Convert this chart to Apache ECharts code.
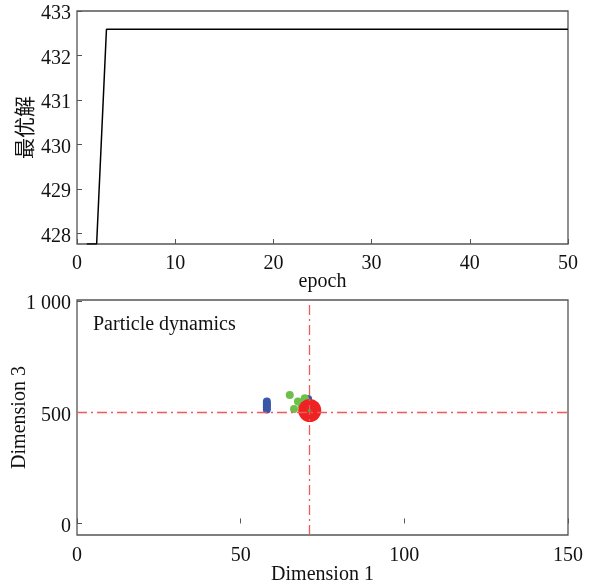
<!DOCTYPE html>
<html>
<head>
<meta charset="utf-8">
<script src="https://cdn.jsdelivr.net/npm/echarts@6/dist/echarts.min.js"></script>
<style>
html,body{margin:0;padding:0;background:#fff;}
#c{width:597px;height:584px;}
</style>
</head>
<body>
<div id="c"></div>
<script>
// ---- data ----
const epochs = [1,2,3,4,5,6,7,8,9,10,11,12,13,14,15,16,17,18,19,20,21,22,23,24,25,26,27,28,29,30,31,32,33,34,35,36,37,38,39,40,41,42,43,44,45,46,47,48,49,50];
const bestValues = [427.76,427.76,432.59,432.59,432.59,432.59,432.59,432.59,432.59,432.59,
  432.59,432.59,432.59,432.59,432.59,432.59,432.59,432.59,432.59,432.59,
  432.59,432.59,432.59,432.59,432.59,432.59,432.59,432.59,432.59,432.59,
  432.59,432.59,432.59,432.59,432.59,432.59,432.59,432.59,432.59,432.59,
  432.59,432.59,432.59,432.59,432.59,432.59,432.59,432.59,432.59,432.59];
const topYTicks = [428,429,430,431,432,433];
const botYTicks = [0,500,1000];

const blueDim1 = [58,58,58,58,58,70.6];
const blueDim3 = [513,522,531,540,549,560];
const greenDim1 = [65.0,67.5,66.3,68.6,69.6];
const greenDim3 = [578,548,515,533,563];
const redDim1 = [71.1];
const redDim3 = [508];
const bestDim1 = 71;
const bestDim3 = 500;
const centerDim1 = [71];
const centerDim3 = [508];

const zip = (a,b)=>a.map((v,i)=>[v,b[i]]);

const FONT = '"Liberation Serif", "Times New Roman", serif';
const CJK = '"Noto Sans CJK SC", sans-serif';
const axisColor = '#555';
const yRich = {v:{fontFamily:FONT, fontSize:20, color:'#111', padding:[6,0,0,0]}};

const chart = echarts.init(document.getElementById('c'), null, {renderer:'canvas'});
chart.setOption({
  animation:false,
  backgroundColor:'#fff',
  title:{text:'Particle dynamics', left:88, top:310, textStyle:{fontFamily:FONT, fontSize:20, fontWeight:'normal', color:'#111'}},
  grid:[
    {left:77, right:29, top:11, height:233, show:true, borderColor:axisColor, borderWidth:1.3, backgroundColor:'transparent', outerBoundsMode:'none', containLabel:false},
    {left:77, right:29, top:300, height:235, show:true, borderColor:axisColor, borderWidth:1.3, backgroundColor:'transparent', outerBoundsMode:'none', containLabel:false}
  ],
  xAxis:[
    {gridIndex:0, type:'value', min:0, max:50, interval:10,
     name:'epoch', nameLocation:'middle', nameGap:28, nameMoveOverlap:false, nameTextStyle:{fontFamily:FONT, fontSize:20, color:'#111'},
     axisLine:{show:false}, splitLine:{show:false},
     axisTick:{inside:true, length:5, lineStyle:{color:axisColor}},
     axisLabel:{fontFamily:FONT, fontSize:20, color:'#111', margin:10}},
    {gridIndex:1, type:'value', min:0, max:150, interval:50,
     name:'Dimension 1', nameLocation:'middle', nameGap:30, nameMoveOverlap:false, nameTextStyle:{fontFamily:FONT, fontSize:20, color:'#111'},
     axisLine:{show:false}, splitLine:{show:false},
     axisTick:{inside:true, length:5, lineStyle:{color:axisColor}},
     axisLabel:{fontFamily:FONT, fontSize:20, color:'#111', margin:11}}
  ],
  yAxis:[
    {gridIndex:0, type:'value', min:427.76, max:433,
     name:'最优解', nameLocation:'middle', nameGap:42, nameRotate:90, nameMoveOverlap:false,
     nameTextStyle:{fontFamily:CJK, fontSize:21, color:'#111'},
     axisLine:{show:false}, splitLine:{show:false},
     axisTick:{inside:true, length:5, lineStyle:{color:axisColor}, customValues:topYTicks},
     axisLabel:{margin:6, customValues:topYTicks, formatter:v=>'{v|'+v+'}', rich:yRich}},
    {gridIndex:1, type:'value', min:-52, max:1005,
     name:'Dimension 3', nameLocation:'middle', nameGap:47, nameRotate:90, nameMoveOverlap:false,
     nameTextStyle:{fontFamily:FONT, fontSize:20, color:'#111'},
     axisLine:{show:false}, splitLine:{show:false},
     axisTick:{inside:true, length:5, lineStyle:{color:axisColor}, customValues:botYTicks},
     axisLabel:{margin:6, customValues:botYTicks, rich:yRich,
       formatter:v=> '{v|' + (v===1000 ? '1 000' : String(v)) + '}'}}
  ],
  series:[
    {type:'line', xAxisIndex:0, yAxisIndex:0, data:zip(epochs,bestValues), showSymbol:false,
     lineStyle:{color:'#000', width:1.5}, clip:true},
    {type:'scatter', xAxisIndex:1, yAxisIndex:1, data:[], z:1,
     markLine:{silent:true, symbol:'none', label:{show:false},
       lineStyle:{color:'#f05a5a', type:[10,4,2,4], width:1.3},
       data:[{xAxis:bestDim1},{yAxis:bestDim3}]}},
    {type:'scatter', xAxisIndex:1, yAxisIndex:1, z:3, data:zip(blueDim1,blueDim3), symbolSize:8,
     itemStyle:{color:'#3a56a8', opacity:1}},
    {type:'scatter', xAxisIndex:1, yAxisIndex:1, z:3, data:zip(greenDim1,greenDim3), symbolSize:8,
     itemStyle:{color:'#6cc04a', opacity:1}},
    {type:'scatter', xAxisIndex:1, yAxisIndex:1, z:4, data:zip(redDim1,redDim3), symbolSize:23,
     itemStyle:{color:'#ee2222', opacity:1}},
    {type:'scatter', xAxisIndex:1, yAxisIndex:1, z:5, data:zip(centerDim1,centerDim3), symbolSize:3,
     itemStyle:{color:'#55aa33', opacity:1}}
  ]
});
</script>
</body>
</html>
